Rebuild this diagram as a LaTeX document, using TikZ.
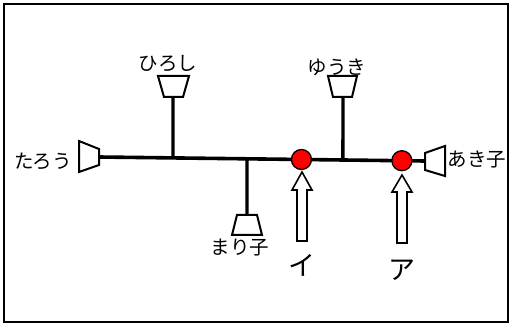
\documentclass[tikz,border=0pt]{standalone}
\usepackage{fontspec}
\setmainfont{Noto Sans CJK JP}
\usetikzlibrary{calc}
\begin{document}
\begin{tikzpicture}[x=1pt,y=-1pt,
  wire/.style={line width=3.6pt},
  stem/.style={line width=3.3pt},
  horn/.style={draw,line width=2pt,fill=white,line join=miter},
  dot/.style={circle,draw,line width=1.3pt,fill=red,minimum size=20pt,inner sep=0pt},
  hollow/.style={draw,line width=1.6pt,fill=white,line join=miter},
  lbl/.style={font=\fontsize{19.5}{19.5}\selectfont,inner sep=0pt},
  biglbl/.style={font=\fontsize{27}{27}\selectfont,inner sep=0pt}]
\useasboundingbox (0,0) rectangle (512,326);
\draw[line width=2pt] (4,4) rectangle (508,322);
% main line ends
\coordinate (L) at (99,157);
\coordinate (R) at (425,161);
\coordinate (jh) at ($(L)!0.227!(R)$);
\coordinate (jm) at ($(L)!0.454!(R)$);
\coordinate (jy) at ($(L)!0.748!(R)$);
\draw[wire] (L) -- (R);
% stems
\coordinate (hb) at (173,97);
\coordinate (mb) at (247,215);
\coordinate (yb) at (343,97);
\draw[stem] (jh) -- (hb);
\draw[stem] (jm) -- (mb);
\draw[stem] (jy) -- (yb);
% horns
\draw[horn] (99,149) -- (79,141) -- (79,172) -- (99,165) -- cycle;
\draw[horn] (158,76) -- (189,76) -- (183,97) -- (164,97) -- cycle;
\draw[horn] (237,215) -- (257,215) -- (262,235) -- (232,235) -- cycle;
\draw[horn] (328,76) -- (357,76) -- (352,97) -- (333,97) -- cycle;
\draw[horn] (425,153) -- (445,146) -- (445,176) -- (425,170) -- cycle;
% red dots
\node[dot] (i) at ($(L)!0.621!(R)$) {};
\node[dot] (a) at ($(L)!0.929!(R)$) {};
% hollow arrows
\draw[hollow] (302,172) -- (312,190) -- (307,190) -- (307,241) -- (297,241) -- (297,190) -- (292,190) -- cycle;
\draw[hollow] (402,175) -- (412,192) -- (407,192) -- (407,243) -- (397,243) -- (397,192) -- (392,192) -- cycle;
% labels
\node[lbl] (taro) at (43,161) {たろう};
\node[lbl] (hiro) at (168,64) {ひろし};
\node[lbl] (mari) at (240,248) {まり子};
\node[lbl] (yuki) at (337,67) {ゆうき};
\node[lbl] (aki) at (477,160) {あき子};
\node[biglbl] (li) at (302,265) {イ};
\node[biglbl] (la) at (402,270) {ア};
\end{tikzpicture}
\end{document}
